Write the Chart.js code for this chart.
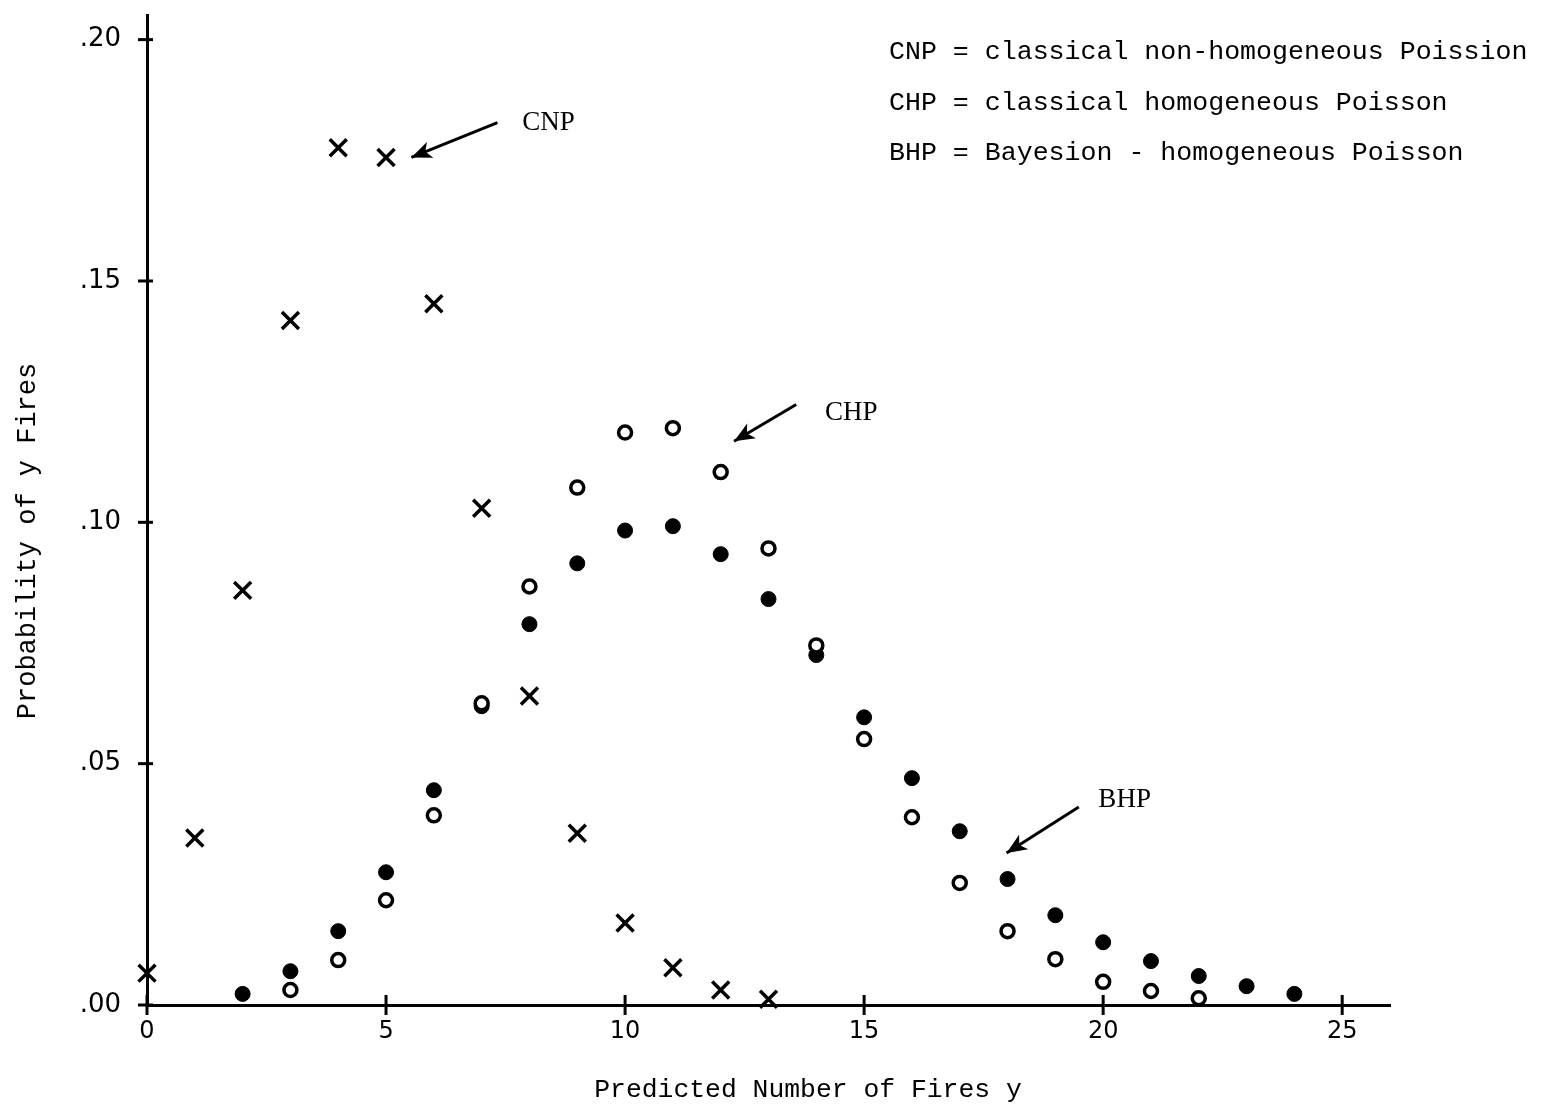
<!DOCTYPE html>
<html>
<head>
<meta charset="utf-8">
<script src="https://cdn.jsdelivr.net/npm/chart.js@4/dist/chart.umd.min.js"></script>
<style>
  body { margin: 0; background: #fff; }
  canvas { display: block; }
</style>
</head>
<body>
<canvas id="myChart" width="1542" height="1109"></canvas>
<script>
// predicted number of fires y
const cnpX = [0, 1, 2, 3, 4, 5, 6, 7, 8, 9, 10, 11, 12, 13];
const cnpP = [0.0066, 0.0346, 0.0859, 0.1418, 0.1776, 0.1756, 0.1453, 0.1029, 0.064, 0.0356, 0.017, 0.0077, 0.0031, 0.0012];

const chpX = [3, 4, 5, 6, 7, 8, 9, 10, 11, 12, 13, 14, 15, 16, 17, 18, 19, 20, 21, 22];
const chpP = [0.0031, 0.0093, 0.0217, 0.0393, 0.0625, 0.0867, 0.1072, 0.1186, 0.1195, 0.1104, 0.0946, 0.0745, 0.0551, 0.0389, 0.0253, 0.0153, 0.0095, 0.0048, 0.0029, 0.0014];

const bhpX = [2, 3, 4, 5, 6, 7, 8, 9, 10, 11, 12, 13, 14, 15, 16, 17, 18, 19, 20, 21, 22, 23, 24];
const bhpP = [0.0023, 0.007, 0.0153, 0.0275, 0.0445, 0.0619, 0.0789, 0.0915, 0.0983, 0.0992, 0.0934, 0.0841, 0.0725, 0.0596, 0.047, 0.036, 0.0261, 0.0186, 0.013, 0.0091, 0.006, 0.0039, 0.0023];

const xTicks = [0, 5, 10, 15, 20, 25];
const yTicks = [0, 0.05, 0.10, 0.15, 0.20];
const yTickLabels = ['.00', '.05', '.10', '.15', '.20'];

const xTitle = 'Predicted Number of Fires y';
const yTitle = 'Probability of y Fires';

const legendLines = [
    'CNP = classical non-homogeneous Poission',
    'CHP = classical homogeneous Poisson',
    'BHP = Bayesion - homogeneous Poisson'
];

// arrow labels: [label, fromX, fromY, toX, toY, textX, textY] in data units
const arrowNotes = [
    ['CNP', 7.33, 0.1828, 5.53, 0.1756, 7.85, 0.1828],
    ['CHP', 13.58, 0.1244, 12.28, 0.1168, 14.18, 0.1226],
    ['BHP', 19.49, 0.0410, 17.98, 0.0315, 19.9, 0.0424]
];

function pts(xs, ys) {
    return xs.map((x, i) => ({ x: x, y: ys[i] }));
}

const extras = {
    id: 'extras',
    afterDraw(chart) {
        const c = chart.ctx;
        const xs = chart.scales.x, ys = chart.scales.y;
        c.save();
        c.strokeStyle = '#000';
        c.fillStyle = '#000';
        c.lineWidth = 3;
        // tick marks crossing the axes
        xTicks.forEach(t => {
            const px = xs.getPixelForValue(t);
            c.beginPath();
            c.moveTo(px, ys.bottom - 10);
            c.lineTo(px, ys.bottom + 10);
            c.stroke();
        });
        yTicks.forEach(t => {
            const py = ys.getPixelForValue(t);
            c.beginPath();
            c.moveTo(xs.left - 9, py);
            c.lineTo(xs.left + 6, py);
            c.stroke();
        });
        // arrows
        arrowNotes.forEach(a => {
            const x1 = xs.getPixelForValue(a[1]), y1 = ys.getPixelForValue(a[2]);
            const x2 = xs.getPixelForValue(a[3]), y2 = ys.getPixelForValue(a[4]);
            const ang = Math.atan2(y2 - y1, x2 - x1);
            c.lineWidth = 3;
            c.beginPath();
            c.moveTo(x1, y1);
            c.lineTo(x2, y2);
            c.stroke();
            c.beginPath();
            c.moveTo(x2, y2);
            c.lineTo(x2 - 22 * Math.cos(ang - 0.4), y2 - 22 * Math.sin(ang - 0.4));
            c.lineTo(x2 - 15 * Math.cos(ang), y2 - 15 * Math.sin(ang));
            c.lineTo(x2 - 22 * Math.cos(ang + 0.4), y2 - 22 * Math.sin(ang + 0.4));
            c.closePath();
            c.fill();
            c.font = '27px "Liberation Serif"';
            c.textAlign = 'left';
            c.textBaseline = 'middle';
            c.fillText(a[0], xs.getPixelForValue(a[5]), ys.getPixelForValue(a[6]));
        });
        // legend text
        c.font = '26.6px "Liberation Mono"';
        c.textAlign = 'left';
        c.textBaseline = 'middle';
        legendLines.forEach((s, i) => {
            c.fillText(s, 889, 52 + i * 50.5);
        });
        // axis titles
        c.textAlign = 'center';
        c.font = '26.4px "Liberation Mono"';
        c.fillText(xTitle, 808, 1090);
        c.translate(28, 541);
        c.rotate(-Math.PI / 2);
        c.font = '27px "Liberation Mono"';
        c.fillText(yTitle, 0, 0);
        c.restore();
    }
};

var ctx = document.getElementById('myChart').getContext('2d');

var myChart = new Chart(ctx, {
    type: 'scatter',
    data: {
        datasets: [{
            label: 'CNP',
            data: pts(cnpX, cnpP),
            pointStyle: 'crossRot',
            pointRadius: 12,
            pointBorderWidth: 3.5,
            borderColor: '#000',
            backgroundColor: '#000',
            clip: false
        }, {
            label: 'CHP',
            data: pts(chpX, chpP),
            pointStyle: 'circle',
            pointRadius: 6.5,
            pointBorderWidth: 3.5,
            borderColor: '#000',
            backgroundColor: '#fff',
            clip: false
        }, {
            label: 'BHP',
            data: pts(bhpX, bhpP),
            pointStyle: 'circle',
            pointRadius: 7.5,
            pointBorderWidth: 1,
            borderColor: '#000',
            backgroundColor: '#000',
            clip: false
        }]
    },
    options: {
        responsive: false,
        animation: false,
        layout: { padding: { top: 10, right: 152, left: 0, bottom: 0 } },
        plugins: {
            legend: { display: false },
            tooltip: { enabled: false }
        },
        scales: {
            x: {
                type: 'linear',
                min: 0,
                max: 26,
                afterFit: s => { s.height = 104; s.paddingLeft = 0; s.paddingRight = 0; },
                afterBuildTicks: s => { s.ticks = xTicks.map(v => ({ value: v })); },
                ticks: {
                    color: '#000',
                    font: { family: 'DejaVu Sans', size: 24 },
                    padding: 4,
                    maxRotation: 0
                },
                grid: { display: false },
                border: { display: true, color: '#000', width: 3 },
                title: { display: false }
            },
            y: {
                min: 0,
                max: 0.205,
                afterFit: s => { s.width = 147; s.paddingTop = 0; s.paddingBottom = 0; },
                afterBuildTicks: s => { s.ticks = yTicks.map(v => ({ value: v })); },
                ticks: {
                    color: '#000',
                    font: { family: 'DejaVu Sans', size: 26 },
                    padding: 18,
                    callback: (v, i) => yTickLabels[i]
                },
                grid: { display: false },
                border: { display: true, color: '#000', width: 3 },
                title: { display: false }
            }
        }
    },
    plugins: [extras]
});
</script>
</body>
</html>
